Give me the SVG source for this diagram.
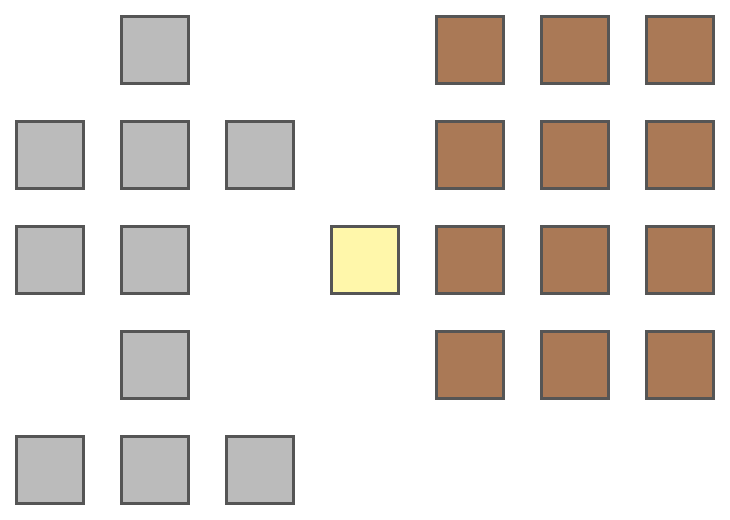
<svg xmlns="http://www.w3.org/2000/svg" width="730" height="520" viewBox="0 0 730 520">
<style>
rect{stroke:#555555;stroke-width:3}
.g{fill:#bbbbbb}
.y{fill:#fff7aa}
.b{fill:#aa7956}
</style>
<rect width="730" height="520" fill="#ffffff" style="stroke:none"/>
<g id="n-g1"><rect class="g" x="121.5" y="16.5" width="67" height="67"/></g>
<g id="n-g2"><rect class="g" x="16.5" y="121.5" width="67" height="67"/></g>
<g id="n-g3"><rect class="g" x="121.5" y="121.5" width="67" height="67"/></g>
<g id="n-g4"><rect class="g" x="226.5" y="121.5" width="67" height="67"/></g>
<g id="n-g5"><rect class="g" x="16.5" y="226.5" width="67" height="67"/></g>
<g id="n-g6"><rect class="g" x="121.5" y="226.5" width="67" height="67"/></g>
<g id="n-g7"><rect class="g" x="121.5" y="331.5" width="67" height="67"/></g>
<g id="n-g8"><rect class="g" x="16.5" y="436.5" width="67" height="67"/></g>
<g id="n-g9"><rect class="g" x="121.5" y="436.5" width="67" height="67"/></g>
<g id="n-g10"><rect class="g" x="226.5" y="436.5" width="67" height="67"/></g>
<g id="n-y1"><rect class="y" x="331.5" y="226.5" width="67" height="67"/></g>
<g id="n-b1"><rect class="b" x="436.5" y="16.5" width="67" height="67"/></g>
<g id="n-b2"><rect class="b" x="541.5" y="16.5" width="67" height="67"/></g>
<g id="n-b3"><rect class="b" x="646.5" y="16.5" width="67" height="67"/></g>
<g id="n-b4"><rect class="b" x="436.5" y="121.5" width="67" height="67"/></g>
<g id="n-b5"><rect class="b" x="541.5" y="121.5" width="67" height="67"/></g>
<g id="n-b6"><rect class="b" x="646.5" y="121.5" width="67" height="67"/></g>
<g id="n-b7"><rect class="b" x="436.5" y="226.5" width="67" height="67"/></g>
<g id="n-b8"><rect class="b" x="541.5" y="226.5" width="67" height="67"/></g>
<g id="n-b9"><rect class="b" x="646.5" y="226.5" width="67" height="67"/></g>
<g id="n-b10"><rect class="b" x="436.5" y="331.5" width="67" height="67"/></g>
<g id="n-b11"><rect class="b" x="541.5" y="331.5" width="67" height="67"/></g>
<g id="n-b12"><rect class="b" x="646.5" y="331.5" width="67" height="67"/></g>
<g id="connectors"></g>
</svg>
